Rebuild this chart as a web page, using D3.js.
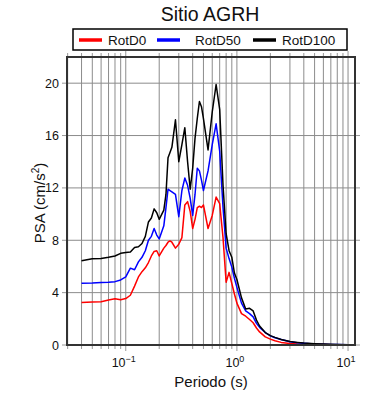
<!DOCTYPE html>
<html><head><meta charset="utf-8">
<script src="https://cdn.jsdelivr.net/npm/d3@7"></script>
<style>body{margin:0;background:#fff}svg{display:block}text{font-family:"Liberation Sans",Arial,sans-serif}</style>
</head><body><svg id="c" width="390" height="400"></svg>
<script>
const periods = [0.04,0.05,0.06,0.07,0.08,0.09,0.10,0.11,0.12,0.13,0.14,0.15,0.16,0.17,0.18,0.19,0.20,0.22,0.23,0.24,0.25,0.26,0.28,0.30,0.32,0.34,0.36,0.38,0.40,0.42,0.44,0.46,0.48,0.50,0.55,0.60,0.65,0.70,0.75,0.80,0.85,0.90,0.95,1.0,1.1,1.2,1.3,1.4,1.5,1.6,1.8,2.0,2.2,2.5,3.0,3.5,4.0,5.0,6.0,7.0,8.0,10.0,11.5];
const rotD0 = [3.24,3.28,3.31,3.44,3.54,3.45,3.55,3.8,4.5,5.2,5.6,5.9,6.3,6.8,7.15,7.2,6.8,7.4,7.6,7.85,7.95,7.85,7.4,7.7,8.2,10.7,10.95,10.2,8.9,9.6,10.5,10.6,10.5,10.7,8.9,9.9,11.3,10.8,8.2,4.8,5.55,4.7,3.9,3.2,2.4,2.2,1.95,1.7,1.3,1.0,0.62,0.45,0.33,0.2,0.12,0.08,0.06,0.04,0.03,0.02,0.02,0.01,0.01];
const rotD50 = [4.72,4.74,4.78,4.8,4.84,4.97,5.2,5.87,5.75,6.35,6.7,7.2,8.0,8.3,8.9,8.4,8.1,9.1,10.5,11.9,11.8,11.7,11.5,9.8,11.8,12.75,12.2,11.2,9.9,11.5,13.5,13.3,12.6,11.8,13.3,15.3,16.9,14.8,10.5,7.4,6.6,5.95,5.1,4.4,3.2,2.6,2.4,2.15,1.65,1.35,0.95,0.7,0.55,0.42,0.25,0.17,0.13,0.08,0.06,0.04,0.03,0.02,0.015];
const rotD100 = [6.43,6.58,6.6,6.7,6.8,7.0,7.06,7.1,7.45,7.5,7.75,8.3,9.4,9.7,10.4,10.1,9.6,10.3,11.5,14.3,14.7,15.1,17.2,14.0,15.3,16.6,14.0,11.9,13.5,15.8,17.3,18.6,18.2,17.3,14.9,17.8,19.9,18.0,12.2,8.5,7.2,6.7,5.5,5.0,3.6,2.75,2.8,2.6,1.9,1.45,0.95,0.72,0.58,0.42,0.27,0.2,0.15,0.1,0.07,0.05,0.04,0.02,0.015];
const seriesNames = ["RotD0","RotD50","RotD100"];
const seriesColors = ["#ff0000","#0000ff","#000000"];
const yTicks = [0,4,8,12,16,20];
const xMajor = [0.1,1,10];
const xMajorExp = ["\u22121","0","1"];

const svg = d3.select("#c");
const L=67,R=355,T=57,B=345;
const x = d3.scaleLog().domain([0.0296,11.55]).range([L,R]);
const y = d3.scaleLinear().domain([0,22]).range([B,T]);

// minor grid values
const gridX = [];
for (let e=-2;e<=1;e++) for (let m=1;m<=9;m++){const v=m*Math.pow(10,e); if(v>=0.0296 && v<=11.55) gridX.push(v);}

const g = svg.append("g");
// vertical grid lines
g.selectAll("line.vg").data(gridX).join("line")
 .attr("x1",d=>x(d)).attr("x2",d=>x(d)).attr("y1",T).attr("y2",B)
 .attr("stroke","#8c8c8c").attr("stroke-width",1);
// horizontal grid
g.selectAll("line.hg").data(yTicks.filter(d=>d>0)).join("line")
 .attr("x1",L).attr("x2",R).attr("y1",d=>y(d)).attr("y2",d=>y(d))
 .attr("stroke","#8c8c8c").attr("stroke-width",1);

// ticks outside
const isMajor = v => xMajor.some(m=>Math.abs(m-v)<1e-9);
g.selectAll("line.bt").data(gridX).join("line")
 .attr("x1",d=>x(d)).attr("x2",d=>x(d)).attr("y1",B).attr("y2",d=>B+(isMajor(d)?6:4))
 .attr("stroke","#999").attr("stroke-width",1);
g.selectAll("line.tt").data(gridX).join("line")
 .attr("x1",d=>x(d)).attr("x2",d=>x(d)).attr("y1",T).attr("y2",d=>T-(isMajor(d)?6:4))
 .attr("stroke","#999").attr("stroke-width",1);
g.selectAll("line.lt").data(yTicks).join("line")
 .attr("x1",L-5).attr("x2",L).attr("y1",d=>y(d)).attr("y2",d=>y(d))
 .attr("stroke","#999").attr("stroke-width",1);
g.selectAll("line.rt").data(yTicks).join("line")
 .attr("x1",R).attr("x2",R+5).attr("y1",d=>y(d)).attr("y2",d=>y(d))
 .attr("stroke","#999").attr("stroke-width",1);

// clip
svg.append("clipPath").attr("id","clp").append("rect").attr("x",L).attr("y",T).attr("width",R-L).attr("height",B-T);
const line = d3.line().x((d,i)=>x(periods[i])).y(d=>y(d));
const data = [rotD0,rotD50,rotD100];
svg.append("g").attr("clip-path","url(#clp)").selectAll("path").data(data).join("path")
 .attr("d",d=>line(d)).attr("fill","none").attr("stroke",(d,i)=>seriesColors[i]).attr("stroke-width",1.5).attr("stroke-linejoin","round");

// frame
svg.append("rect").attr("x",L).attr("y",T).attr("width",R-L).attr("height",B-T)
 .attr("fill","none").attr("stroke","#333").attr("stroke-width",2);

// y tick labels
svg.selectAll("text.yl").data(yTicks).join("text")
 .attr("x",L-8).attr("y",d=>y(d)+4.5).attr("text-anchor","end").attr("font-size",12.5).attr("fill","#111")
 .text(d=>d);
// x tick labels
const xl = svg.selectAll("text.xl").data(xMajor).join("text")
 .attr("x",(d,i)=>x(d)-2).attr("y",367).attr("text-anchor","middle").attr("font-size",12.5).attr("fill","#111");
xl.append("tspan").text("10");
xl.append("tspan").attr("dy",-5).attr("font-size",9).text((d,i)=>xMajorExp[i]);

// axis titles
svg.append("text").attr("x",211).attr("y",387).attr("text-anchor","middle").attr("font-size",15).attr("fill","#111").text("Periodo (s)");
const yt = svg.append("text").attr("transform","translate(45,203) rotate(-90)").attr("text-anchor","middle").attr("font-size",15).attr("fill","#111");
yt.append("tspan").text("PSA (cm/s");
yt.append("tspan").attr("dy",-6).attr("font-size",10).text("2");
yt.append("tspan").attr("dy",6).text(")");

// title
svg.append("text").attr("x",210).attr("y",21).attr("text-anchor","middle").attr("font-size",19.5).attr("fill","#111").text("Sitio AGRH");

// legend
svg.append("rect").attr("x",73).attr("y",29).attr("width",274).attr("height",21).attr("fill","#fff").attr("stroke","#000").attr("stroke-width",1.5);
const legX = [79,157,253];
const lg = svg.selectAll("g.leg").data(seriesNames).join("g").attr("transform",(d,i)=>`translate(${legX[i]},40)`);
lg.append("line").attr("x1",0).attr("x2",23).attr("y1",0).attr("y2",0).attr("stroke",(d,i)=>seriesColors[i]).attr("stroke-width",3.5);
lg.append("text").attr("x",(d,i)=>i===1?38:29).attr("y",4.5).attr("font-size",13.5).attr("fill","#111").text(d=>d);
</script></body></html>
